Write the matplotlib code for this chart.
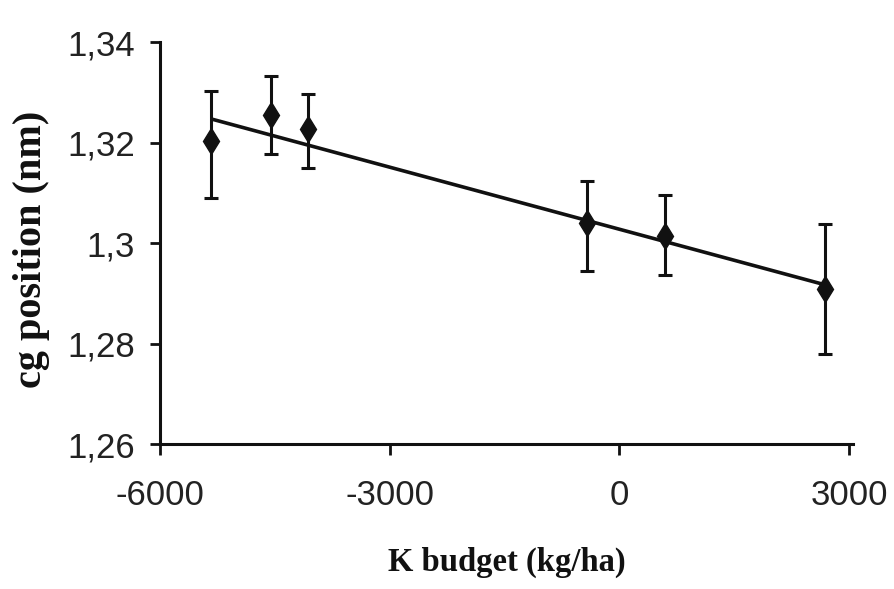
import matplotlib
matplotlib.use("Agg")
import matplotlib.pyplot as plt

# values
k_budget = [-5330, -4550, -4070, -430, 600, 2680]
cg_pos = [1.3202, 1.3255, 1.3226, 1.3039, 1.3013, 1.2908]
err_low = [0.0112, 0.0077, 0.0077, 0.0095, 0.0077, 0.0129]
err_high = [0.0101, 0.0078, 0.0070, 0.0084, 0.0083, 0.0129]

# fitted trend line, end points
trend_x = [-5310, 2680]
trend_y = [1.3246, 1.2917]

x_ticks = [-6000, -3000, 0, 3000]
x_tick_labels = ["-6000", "-3000", "0", "3000"]
y_ticks = [1.26, 1.28, 1.30, 1.32, 1.34]
y_tick_labels = ["1,26", "1,28", "1,3", "1,32", "1,34"]

W, H = 894, 589
fig = plt.figure(figsize=(W / 100, H / 100), dpi=100)
ax = fig.add_axes([160 / W, 1 - 444 / H, 693 / W, 402 / H])

ax.errorbar(k_budget, cg_pos, yerr=[err_low, err_high], fmt='d', color='#111111',
            markersize=13, elinewidth=2.2, capsize=5, capthick=2.2, zorder=3)
ax.plot(trend_x, trend_y, color='#111111', linewidth=2.6, zorder=2)

ax.set_xlim(-6000, 3050)
ax.set_ylim(1.26, 1.34)
ax.set_xticks(x_ticks)
ax.set_xticklabels(x_tick_labels)
ax.set_yticks(y_ticks)
ax.set_yticklabels(y_tick_labels)

for lab in ax.get_xticklabels() + ax.get_yticklabels():
    lab.set_fontfamily('Liberation Sans')
    lab.set_fontsize(25)
    lab.set_color('#222222')

ax.tick_params(axis='x', direction='out', length=8, width=2, pad=17, colors='#111111', labelcolor='#222222')
ax.tick_params(axis='y', direction='out', length=7, width=2, pad=11, colors='#111111', labelcolor='#222222')

for side in ['top', 'right']:
    ax.spines[side].set_visible(False)
for side in ['left', 'bottom']:
    ax.spines[side].set_linewidth(2.2)
    ax.spines[side].set_color('#111111')

ax.set_xlabel('K budget (kg/ha)', family='Liberation Serif', fontweight='bold',
              fontsize=23.5, va='center', color='#111111')
ax.xaxis.set_label_coords(0.5, (444 - 562) / 402)
ax.set_ylabel('cg position (nm)', family='Liberation Serif', fontweight='bold',
              fontsize=29, va='center', color='#111111')
ax.yaxis.set_label_coords((32 - 160) / 693, (444 - 249) / 402)

fig.savefig('out.png', dpi=100)
